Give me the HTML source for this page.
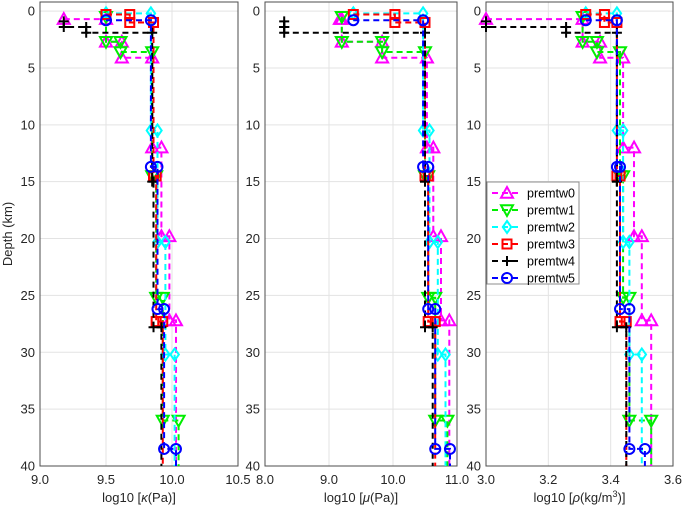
<!DOCTYPE html>
<html><head><meta charset="utf-8"><style>
body{margin:0;background:#fff;}
svg{display:block;font-family:"Liberation Sans",sans-serif;}
</style></head><body>
<svg id="c" width="685" height="512" viewBox="0 0 685 512"></svg>
<script>
const seriesNames=["premtw0","premtw1","premtw2","premtw3","premtw4","premtw5"];
const colors=["#ff00ff","#00ee00","#00ffff","#ff0000","#000000","#0000ff"];
const markerTypes=["tri","itri","diamond","square","plus","circle"];
const depths0=[0.7,0.7,2.7,2.7,4.1,4.1,12,12,19.8,19.8,27.2,27.2,40];
const depths1=[0.5,2.7,2.7,3.6,3.6,14.5,14.5,25.2,25.2,36,36,40];
const depths2=[0.2,0.2,10.5,10.5,20.3,20.3,30.2,30.2,40];
const depths3=[0.3,0.3,1,1,14.5,14.5,27.3,27.3,40];
const depths4=[0.9,1.4,1.4,1.9,1.9,15,15,27.8,27.8,40];
const depths5=[0.8,0.8,13.7,13.7,26.2,26.2,38.5,38.5,40];
const kappa0=[9.18,9.5,9.5,9.62,9.62,9.85,9.85,9.92,9.92,9.98,9.98,10.03,10.03];
const kappa1=[9.5,9.5,9.61,9.61,9.85,9.85,9.88,9.88,9.93,9.93,10.05,10.05];
const kappa2=[9.5,9.84,9.84,9.89,9.89,9.95,9.95,10.02,10.02];
const kappa3=[9.5,9.68,9.68,9.86,9.86,9.88,9.88,9.93,9.93];
const kappa4=[9.18,9.18,9.35,9.35,9.85,9.85,9.86,9.86,9.92,9.92];
const kappa5=[9.5,9.84,9.84,9.89,9.89,9.94,9.94,10.03,10.03];
const mu0=[9.17,9.2,9.2,9.83,9.83,10.53,10.53,10.63,10.63,10.75,10.75,10.88,10.88];
const mu1=[9.2,9.2,9.83,9.83,10.5,10.5,10.55,10.55,10.66,10.66,10.85,10.85];
const mu2=[9.38,10.47,10.47,10.57,10.57,10.7,10.7,10.82,10.82];
const mu3=[9.38,10.03,10.03,10.5,10.5,10.55,10.55,10.66,10.66];
const mu4=[8.3,8.3,8.3,8.3,10.5,10.5,10.5,10.5,10.62,10.62];
const mu5=[9.38,10.47,10.47,10.55,10.55,10.66,10.66,10.89,10.89];
const rho0=[3.0,3.31,3.31,3.366,3.366,3.44,3.44,3.475,3.475,3.5,3.5,3.53,3.53];
const rho1=[3.31,3.31,3.356,3.356,3.43,3.43,3.44,3.44,3.46,3.46,3.53,3.53];
const rho2=[3.32,3.42,3.42,3.44,3.44,3.46,3.46,3.5,3.5];
const rho3=[3.32,3.38,3.38,3.42,3.42,3.43,3.43,3.45,3.45];
const rho4=[3.0,3.0,3.257,3.257,3.42,3.42,3.42,3.42,3.45,3.45];
const rho5=[3.32,3.42,3.42,3.43,3.43,3.46,3.46,3.51,3.51];
const yTicks=[0,5,10,15,20,25,30,35,40];
const xTicks1=["9.0","9.5","10.0","10.5"];
const xTicks2=["8.0","9.0","10.0","11.0"];
const xTicks3=["3.0","3.2","3.4","3.6"];

const depthSets=[depths0,depths1,depths2,depths3,depths4,depths5];
const NS="http://www.w3.org/2000/svg";
const svg=document.getElementById('c');
function mk(tag,attrs,parent){const e=document.createElementNS(NS,tag);for(const k in attrs)e.setAttribute(k,attrs[k]);(parent||svg).appendChild(e);return e;}
const topY=2,botY=466,dmin=-0.8,dmax=40;
const yS=d=>topY+(d-dmin)/(dmax-dmin)*(botY-topY);

function marker(g,type,x,y,col){
  const s=6;let e;
  if(type==="tri")e=mk('polygon',{points:`${x},${y-s} ${x-s},${y+s*0.8} ${x+s},${y+s*0.8}`},g);
  else if(type==="itri")e=mk('polygon',{points:`${x},${y+s} ${x-s},${y-s*0.8} ${x+s},${y-s*0.8}`},g);
  else if(type==="diamond")e=mk('polygon',{points:`${x},${y-s} ${x+s*0.7},${y} ${x},${y+s} ${x-s*0.7},${y}`},g);
  else if(type==="square")e=mk('rect',{x:x-4.5,y:y-4.5,width:9,height:9},g);
  else if(type==="circle")e=mk('circle',{cx:x,cy:y,r:5},g);
  else {e=mk('path',{d:`M${x-5},${y}H${x+5}M${x},${y-5}V${y+5}`},g);}
  e.setAttribute('fill','none');e.setAttribute('stroke',col);e.setAttribute('stroke-width','2');
  return e;
}

function panel(idx,x0,x1,vmin,vmax,tickLabels,valueSets,label){
  const g=mk('g',{});
  
  
  const xS=v=>x0+(v-vmin)/(vmax-vmin)*(x1-x0);
  mk('rect',{x:x0,y:topY,width:x1-x0,height:botY-topY,fill:'#fff'},g);
  tickLabels.forEach((t,i)=>{const x=xS(parseFloat(t));
    mk('line',{x1:x,x2:x,y1:topY,y2:botY,stroke:'#e3e3e3','stroke-width':1},g);
    const tx=mk('text',{x:x,y:botY+18,'text-anchor':'middle','font-size':13,fill:'#262626'},g);tx.textContent=t;
    
    });
  yTicks.forEach(d=>{const y=yS(d);
    mk('line',{x1:x0,x2:x1,y1:y,y2:y,stroke:'#e3e3e3','stroke-width':1},g);
    const ty=mk('text',{x:x0-5,y:y+4.5,'text-anchor':'end','font-size':13,fill:'#262626'},g);ty.textContent=d;
    
    });
  mk('rect',{x:x0,y:topY,width:x1-x0,height:botY-topY,fill:'none',stroke:'#4d4d4d','stroke-width':1},g);
  valueSets.forEach((vals,s)=>{
    const ds=depthSets[s];
    const sg=mk('g',{},g);
    
    
    const pts=vals.map((v,i)=>xS(v).toFixed(1)+','+yS(ds[i]).toFixed(1)).join(' ');
    mk('polyline',{points:pts,fill:'none',stroke:colors[s],'stroke-width':2,'stroke-dasharray':'6,4'},sg);
    vals.forEach((v,i)=>{if(ds[i]<40){const m=marker(sg,markerTypes[s],xS(v),yS(ds[i]),colors[s]);
      
      }});
  });
  const xl=mk('text',{x:(x0+x1)/2,y:502,'text-anchor':'middle','font-size':13,fill:'#262626'},g);
  xl.innerHTML=label;
  
  
}
panel(0,40,238,9.0,10.5,xTicks1,[kappa0,kappa1,kappa2,kappa3,kappa4,kappa5],'log10 [<tspan font-style="italic">κ</tspan>(Pa)]');
panel(1,265,457,8.0,11.0,xTicks2,[mu0,mu1,mu2,mu3,mu4,mu5],'log10 [<tspan font-style="italic">μ</tspan>(Pa)]');
panel(2,486,673,3.0,3.6,xTicks3,[rho0,rho1,rho2,rho3,rho4,rho5],'log10 [<tspan font-style="italic">ρ</tspan>(kg/m<tspan dy="-5" font-size="9">3</tspan><tspan dy="5">)]</tspan>');

const yl=mk('text',{x:0,y:0,transform:'translate(12,234) rotate(-90)','text-anchor':'middle','font-size':13,fill:'#262626'});
yl.textContent='Depth (km)';



const lg=mk('g',{});


mk('rect',{x:487,y:182,width:92,height:102,fill:'#fff',stroke:'#8c8c8c','stroke-width':1},lg);
seriesNames.forEach((n,i)=>{
  const y=193+i*17;
  const eg=mk('g',{},lg);
  
  
  mk('line',{x1:492,x2:518,y1:y,y2:y,stroke:colors[i],'stroke-width':2,'stroke-dasharray':'6,4'},eg);
  marker(eg,markerTypes[i],507,y,colors[i]);
  const t=mk('text',{x:527,y:y+4.5,'font-size':12.5,fill:'#000'},eg);t.textContent=n;
});
</script>
</body></html>
